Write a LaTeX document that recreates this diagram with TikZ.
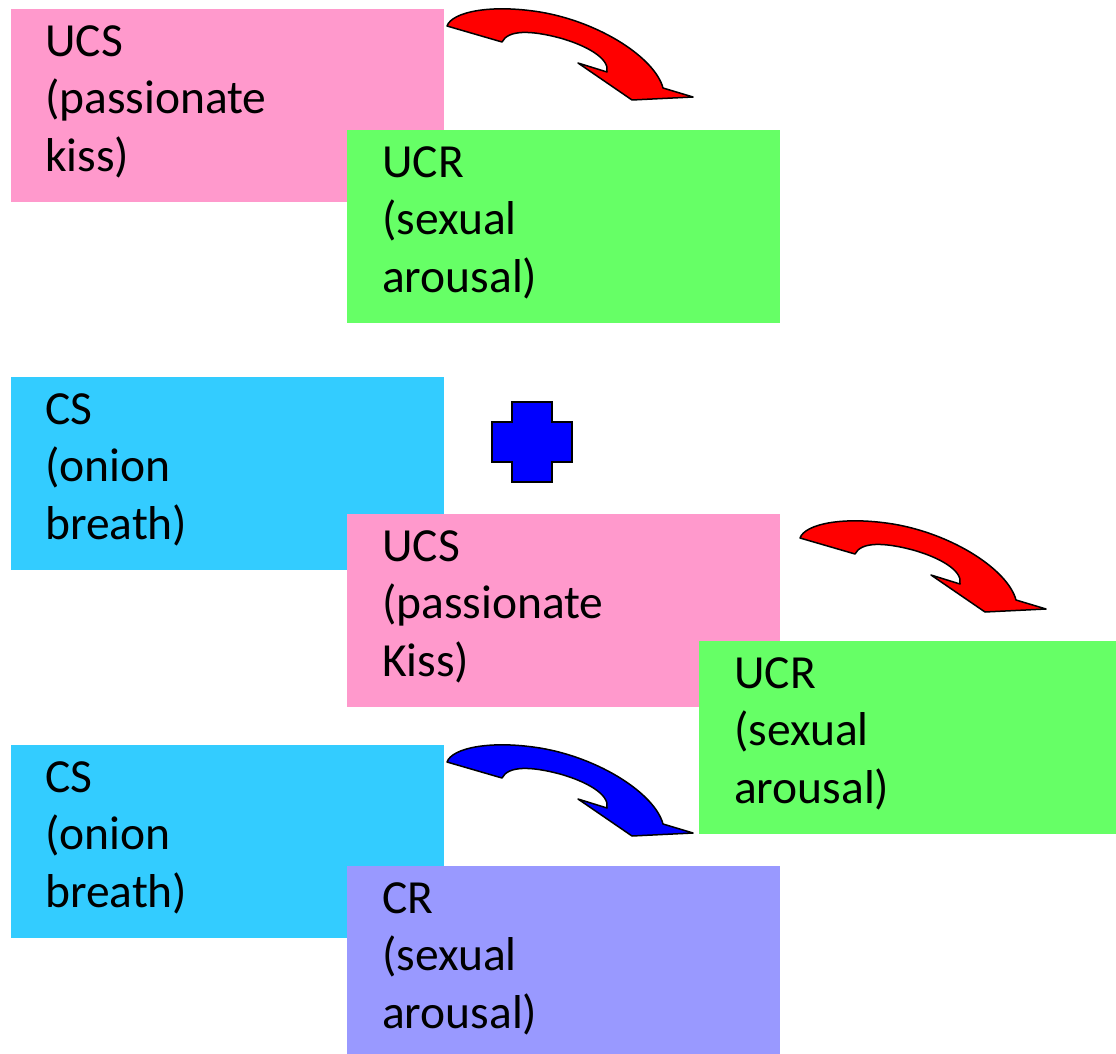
\documentclass[tikz,border=0pt]{standalone}
\usepackage{fontspec}
\setmainfont{Carlito}
\usetikzlibrary{calc}
\definecolor{boxpink}{HTML}{FF99CC}
\definecolor{boxgreen}{HTML}{66FF66}
\definecolor{boxcyan}{HTML}{33CCFF}
\definecolor{boxpurple}{HTML}{9999FF}
\newcommand{\curvyshape}{(447,26) .. controls (452,12) and (490,4) .. (540,12) .. controls (600,22) and (655,58) .. (663,88) -- (693,97) -- (632,100) -- (578,63) -- (607,72) .. controls (610,58) and (585,45) .. (560,38) .. controls (530,30) and (508,30) .. (502,42) -- cycle}
\begin{document}
\begin{tikzpicture}[x=1pt,y=-1pt,
  cbox/.style={anchor=north west, inner sep=0pt, minimum width=433pt, minimum height=193pt},
  lbl/.style={anchor=north west, inner sep=0pt, align=left, font=\fontsize{47.5}{57.5}\selectfont},
  curvy/.style={draw=black, line width=1.5pt, line join=round},
  plusshape/.style={draw=black, fill=blue, line width=2.6pt, line join=miter}]
\useasboundingbox (0,0) rectangle (1116,1054);
% row 1
\node[cbox, fill=boxpink] (b1) at (11,9) {};
\node[lbl] (t1) at ($(b1.north west)+(34,16)$) {\rule{0pt}{30pt}UCS\\(passionate\\kiss)};
\node[cbox, fill=boxgreen] (b2) at (347,130) {};
\node[lbl] (t2) at ($(b2.north west)+(35,16)$) {\rule{0pt}{30pt}UCR\\(sexual\\arousal)};
\filldraw[curvy, fill=red] \curvyshape;
% row 2
\node[cbox, fill=boxcyan] (b3) at (11,377) {};
\node[lbl] (t3) at ($(b3.north west)+(34,16)$) {\rule{0pt}{30pt}CS\\(onion\\breath)};
\filldraw[plusshape] (512,402) -- (552,402) -- (552,422) -- (572,422) -- (572,462) -- (552,462) -- (552,482) -- (512,482) -- (512,462) -- (492,462) -- (492,422) -- (512,422) -- cycle;
\node[cbox, fill=boxpink] (b4) at (347,514) {};
\node[lbl] (t4) at ($(b4.north west)+(35,16)$) {\rule{0pt}{30pt}UCS\\(passionate\\Kiss)};
\filldraw[curvy, fill=red, shift={(353,512)}] \curvyshape;
\node[cbox, fill=boxgreen, minimum width=417pt] (b5) at (699,641) {};
\node[lbl] (t5) at ($(b5.north west)+(35,16)$) {\rule{0pt}{30pt}UCR\\(sexual\\arousal)};
% row 3
\node[cbox, fill=boxcyan] (b6) at (11,745) {};
\node[lbl] (t6) at ($(b6.north west)+(34,16)$) {\rule{0pt}{30pt}CS\\(onion\\breath)};
\filldraw[curvy, fill=blue, shift={(0,736)}] \curvyshape;
\node[cbox, fill=boxpurple, minimum height=188pt] (b7) at (347,866) {};
\node[lbl] (t7) at ($(b7.north west)+(35,16)$) {\rule{0pt}{30pt}CR\\(sexual\\arousal)};
\end{tikzpicture}
\end{document}
